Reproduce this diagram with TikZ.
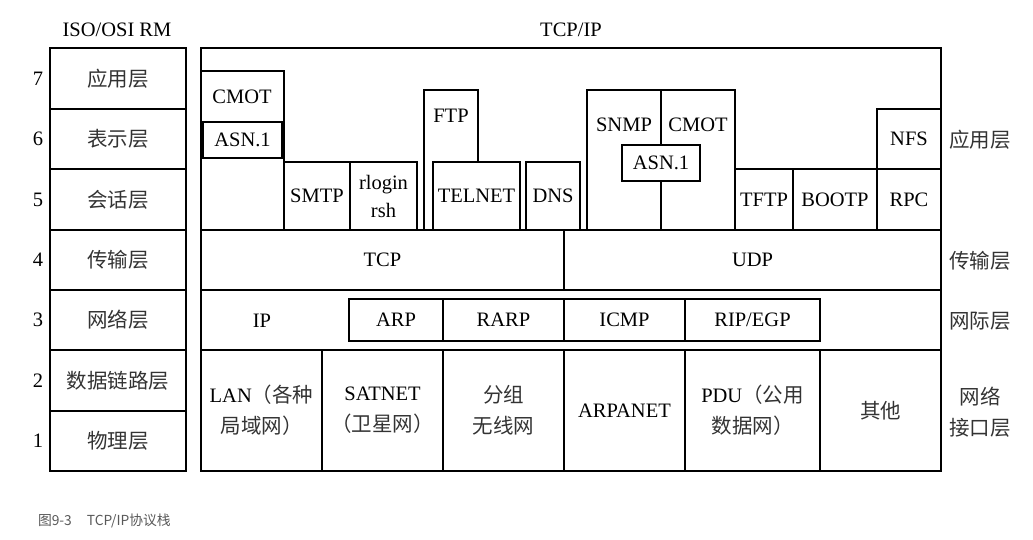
\documentclass[tikz,border=0pt]{standalone}
\usepackage{fontspec}
\setmainfont{Liberation Serif}
\newfontfamily\cjk{Noto Sans CJK SC}
\newfontfamily\capfont{Noto Sans CJK SC}
\usetikzlibrary{positioning}
\newcommand\zhtext[1]{{\cjk\color{black!80}#1}}

\begin{document}
\begin{tikzpicture}[x=1pt,y=-1pt,every node/.style={inner sep=0,outer sep=0,font=\fontsize{20.5}{31}\selectfont},
	cell/.style={draw,line width=2.2pt,anchor=north west,align=center},
	zh/.style={font=\fontsize{20.5}{31}\selectfont\cjk,text=black!80,align=center}]
	\useasboundingbox (0,0) rectangle (1033,540);
	% ISO/OSI column
	\node (osi) at (117,30) {ISO/OSI RM};
	\node (l7) [cell,minimum width=136pt,minimum height=61pt,zh] at (50,48) {应用层};
	\node (l6) [cell,minimum width=136pt,minimum height=60pt,zh,below=0pt of l7] {表示层};
	\node (l5) [cell,minimum width=136pt,minimum height=61pt,zh,below=0pt of l6] {会话层};
	\node (l4) [cell,minimum width=136pt,minimum height=60pt,zh,below=0pt of l5] {传输层};
	\node (l3) [cell,minimum width=136pt,minimum height=60pt,zh,below=0pt of l4] {网络层};
	\node (l2) [cell,minimum width=136pt,minimum height=61pt,zh,below=0pt of l3] {数据链路层};
	\node (l1) [cell,minimum width=136pt,minimum height=60pt,zh,below=0pt of l2] {物理层};
	\node (n7) [left=7pt of l7] {7};
	\node (n6) [left=7pt of l6] {6};
	\node (n5) [left=7pt of l5] {5};
	\node (n4) [left=7pt of l4] {4};
	\node (n3) [left=7pt of l3] {3};
	\node (n2) [left=7pt of l2] {2};
	\node (n1) [left=7pt of l1] {1};
	% TCP/IP stack
	\node (tcpip) [cell,minimum width=740pt,minimum height=423pt] at (201,48) {};
	\node (tcpiplbl) at (571,30) {TCP/IP};
	% application layer
	\node (cmotbox) [cell,minimum width=83pt,minimum height=159pt] at (201,71) {};
	\node (cmota) at (242,97) {CMOT};
	\node (asna) [cell,minimum width=79pt,minimum height=36pt] at (203,122) {ASN.1};
	\node (smtp) [cell,minimum width=66pt,minimum height=68pt] at (284,162) {SMTP};
	\node (rlogin) [cell,minimum width=67pt,minimum height=68pt,right=0pt of smtp] {rlogin\\[-3pt]rsh};
	\draw[line width=2.2pt] (424,230) |- (478,90) -- (478,162);
	\node (ftp) at (451,116) {FTP};
	\node (telnet) [cell,minimum width=87pt,minimum height=68pt] at (433,162) {TELNET};
	\node (dns) [cell,minimum width=54pt,minimum height=68pt] at (526,162) {DNS};
	\node (snmpbox) [cell,minimum width=148pt,minimum height=140pt] at (587,90) {};
	\node (asnb) [cell,minimum width=78pt,minimum height=36pt] at (622,145) {ASN.1};
	\node (snmp) at (624,125) {SNMP};
	\node (cmotb) at (698,125) {CMOT};
	\path[line width=2.2pt]
		(snmpbox.north) edge (asnb.north)
		(asnb.south) edge (snmpbox.south);
	\node (tftp) [cell,minimum width=58pt,minimum height=61pt] at (735,169) {TFTP};
	\node (bootp) [cell,minimum width=84pt,minimum height=61pt,right=0pt of tftp] {BOOTP};
	\node (rpc) [cell,minimum width=64pt,minimum height=61pt,right=0pt of bootp] {RPC};
	\node (nfs) [cell,minimum width=64pt,minimum height=60pt,above=0pt of rpc] {NFS};
	% transport layer
	\node (tcp) [cell,minimum width=363pt,minimum height=60pt] at (201,230) {TCP};
	\node (udp) [cell,minimum width=377pt,minimum height=60pt,right=0pt of tcp] {UDP};
	% internet layer
	\node (ip) at (262,321) {IP};
	\node (arp) [cell,minimum width=94pt,minimum height=42pt] at (349,299) {ARP};
	\node (rarp) [cell,minimum width=121pt,minimum height=42pt,right=0pt of arp] {RARP};
	\node (icmp) [cell,minimum width=121pt,minimum height=42pt,right=0pt of rarp] {ICMP};
	\node (rip) [cell,minimum width=135pt,minimum height=42pt,right=0pt of icmp] {RIP/EGP};
	% network interface layer
	\node (lan) [cell,minimum width=121pt,minimum height=121pt] at (201,350) {LAN\zhtext{（各种}\\\zhtext{局域网）}};
	\node (satnet) [cell,minimum width=121pt,minimum height=121pt,right=0pt of lan] {SATNET\\\zhtext{（卫星网）}};
	\node (pradio) [cell,minimum width=121pt,minimum height=121pt,zh,right=0pt of satnet] {分组\\无线网};
	\node (arpanet) [cell,minimum width=121pt,minimum height=121pt,right=0pt of pradio] {ARPANET};
	\node (pdu) [cell,minimum width=135pt,minimum height=121pt,right=0pt of arpanet] {PDU\zhtext{（公用}\\\zhtext{数据网）}};
	\node (other) [cell,minimum width=121pt,minimum height=121pt,zh,right=0pt of pdu] {其他};
	% TCP/IP layer names
	\node (r4) [zh] at (980,140) {应用层};
	\node (r3) [zh] at (980,261) {传输层};
	\node (r2) [zh] at (980,321) {网际层};
	\node (r1) [zh] at (980,412) {网络\\接口层};
	% caption
	\node (caption) [anchor=west,font=\fontsize{13.8}{16}\selectfont\capfont,text=black!65] at (38,521) {图9-3\hspace{15pt}TCP/IP协议栈};
\end{tikzpicture}
\end{document}
